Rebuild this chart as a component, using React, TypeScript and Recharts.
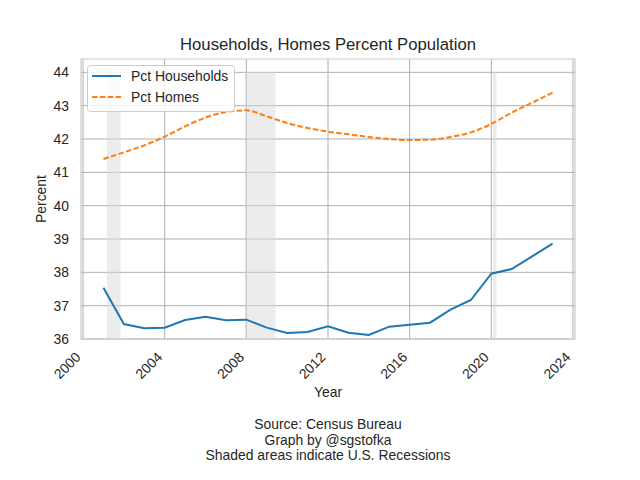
import React from "react";
import {
  LineChart,
  Line,
  XAxis,
  YAxis,
  CartesianGrid,
  ReferenceArea,
} from "recharts";

const years = [
  2001, 2002, 2003, 2004, 2005, 2006, 2007, 2008, 2009, 2010, 2011, 2012,
  2013, 2014, 2015, 2016, 2017, 2018, 2019, 2020, 2021, 2022, 2023,
];
const pctHouseholds = [
  37.54, 36.45, 36.32, 36.34, 36.57, 36.67, 36.56, 36.58, 36.34, 36.18, 36.21,
  36.38, 36.19, 36.12, 36.37, 36.43, 36.49, 36.88, 37.17, 37.96, 38.1, 38.48,
  38.86,
];
const pctHomes = [
  41.4, 41.6, 41.81, 42.07, 42.38, 42.64, 42.81, 42.86, 42.68, 42.48, 42.33,
  42.22, 42.14, 42.06, 42.0, 41.97, 41.98, 42.06, 42.2, 42.45, 42.79, 43.09,
  43.39,
];
const recessionStarts = [2001.17, 2007.92, 2020.08];
const recessionEnds = [2001.84, 2009.42, 2020.25];
const xTicks = [2000, 2004, 2008, 2012, 2016, 2020, 2024];
const yTicks = [36, 37, 38, 39, 40, 41, 42, 43, 44];
const footerLines = [
  "Source: Census Bureau",
  "Graph by @sgstofka",
  "Shaded areas indicate U.S. Recessions",
];

const data = years.map((y, i) => ({
  year: y,
  households: pctHouseholds[i],
  homes: pctHomes[i],
}));

const FONT = '"Liberation Sans", Arial, sans-serif';
const BLUE = "#1f77b4";
const ORANGE = "#ff7f0e";

const XTick = (props: any) => {
  const { x, y, payload } = props;
  const ax = x - 1.5;
  const ay = y + 19;
  return (
    <text
      x={ax}
      y={ay}
      textAnchor="end"
      transform={`rotate(-45, ${ax}, ${ay})`}
      fontSize={13.9}
      fontFamily={FONT}
      fill="#262626"
    >
      {payload.value}
    </text>
  );
};

const YTick = (props: any) => {
  const { x, y, payload } = props;
  return (
    <text
      x={x}
      y={y + 5}
      textAnchor="end"
      fontSize={13.9}
      fontFamily={FONT}
      fill="#262626"
    >
      {payload.value}
    </text>
  );
};

export default function App() {
  return (
    <div
      style={{
        position: "absolute",
        left: 0,
        top: 0,
        width: 640,
        height: 480,
        background: "#fff",
        fontFamily: FONT,
      }}
    >
      <LineChart
        width={640}
        height={480}
        data={data}
        margin={{ top: 59, right: 65, bottom: 101, left: 31 }}
      >
        <CartesianGrid
          stroke="#b0b0b0"
          strokeWidth={1}
          horizontalValues={yTicks}
          verticalValues={xTicks}
        />
        <XAxis
          dataKey="year"
          type="number"
          domain={[1999.9, 2024.1]}
          ticks={xTicks}
          axisLine={false}
          tickLine={false}
          tickSize={0}
          tickMargin={0}
          height={40}
          tick={<XTick />}
          allowDataOverflow
        />
        <YAxis
          type="number"
          domain={[36, 44.4]}
          ticks={yTicks}
          axisLine={false}
          tickLine={false}
          tickSize={0}
          tickMargin={12}
          width={50}
          tick={<YTick />}
          allowDataOverflow
        />
        {recessionStarts.map((s, i) => (
          <ReferenceArea
            key={i}
            x1={s}
            x2={recessionEnds[i]}
            y1={36}
            y2={44}
            fill="#d9d9d9"
            fillOpacity={0.5}
            stroke="none"
          />
        ))}
        <ReferenceArea
          x1={1999.9}
          x2={2024.1}
          y1={36}
          y2={44.4}
          fill="none"
          stroke="#cccccc"
          strokeWidth={1.2}
        />
        <Line
          dataKey="households"
          stroke={BLUE}
          strokeWidth={2}
          dot={false}
          isAnimationActive={false}
          type="linear"
        />
        <Line
          dataKey="homes"
          stroke={ORANGE}
          strokeWidth={2}
          strokeDasharray="5.5 2.4"
          dot={false}
          isAnimationActive={false}
          type="monotone"
        />
      </LineChart>
      <svg
        width={640}
        height={480}
        style={{ position: "absolute", left: 0, top: 0, pointerEvents: "none" }}
        fontFamily={FONT}
      >
        <text x={328} y={50} textAnchor="middle" fontSize={16.7} fill="#262626">
          Households, Homes Percent Population
        </text>
        <text
          x={46}
          y={199}
          textAnchor="middle"
          fontSize={13.9}
          fill="#262626"
          transform="rotate(-90, 46, 199)"
        >
          Percent
        </text>
        <text x={328} y={397} textAnchor="middle" fontSize={13.9} fill="#262626">
          Year
        </text>
        {footerLines.map((t, i) => (
          <text
            key={i}
            x={328}
            y={429 + i * 15.6}
            textAnchor="middle"
            fontSize={13.9}
            fill="#262626"
          >
            {t}
          </text>
        ))}
        <rect
          x={87.5}
          y={65.5}
          width={147}
          height={46}
          rx={3}
          fill="#ffffff"
          fillOpacity={0.8}
          stroke="#cccccc"
        />
        <line x1={92} x2={121} y1={76} y2={76} stroke={BLUE} strokeWidth={2} />
        <text x={131} y={81} fontSize={13.9} fill="#262626">
          Pct Households
        </text>
        <line
          x1={92}
          x2={121}
          y1={97}
          y2={97}
          stroke={ORANGE}
          strokeWidth={2}
          strokeDasharray="5.5 2.4"
        />
        <text x={131} y={102} fontSize={13.9} fill="#262626">
          Pct Homes
        </text>
      </svg>
    </div>
  );
}
